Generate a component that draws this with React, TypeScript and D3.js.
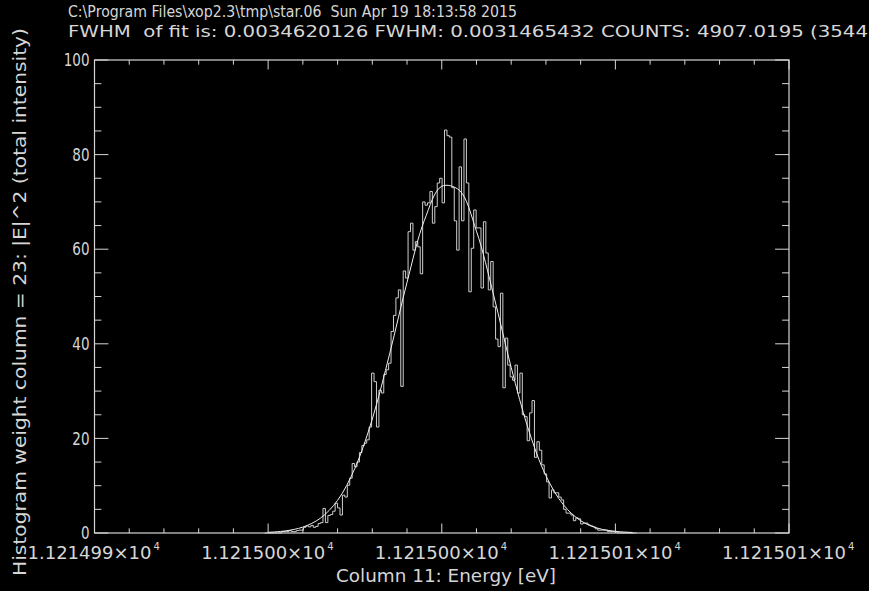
import React, { useEffect, useRef } from "react";
import * as d3 from "d3";

// energy axis (eV) and its printed labels
const energyTicks = [11214.99, 11214.995, 11215.0, 11215.005, 11215.01];
const energyTickLabels = ["1.121499", "1.121500", "1.121500", "1.121501", "1.121501"];
const intensityTicks = [0, 20, 40, 60, 80, 100];

// histogram: first bin edge and bin width in eV
const histStart = 11214.9949;
const binWidth = 0.00007;
const histCounts = [
  0, 0, 0, 0, 0, 0, 0, 0.3,
  0.3, 0.3, 0.5, 0.3, 0.3, 0.5,
  0.6, 0.6, 1.2, 1.5, 1.3, 1.6,
  1.2, 1.4, 2.0, 2.2, 5.2, 2.2, 3.7, 3.9, 4.6, 6.3,
  5.3, 3.8, 8.0, 7.6, 10.1, 11.6, 14.7, 14.0, 15.0, 17.0,
  18.5, 19.0, 19.7, 22.4, 33.8, 32.0, 22.4, 30.2, 29.6, 33.5,
  34.5, 35.9, 42.6, 46.0, 49.7, 51.4, 31.0, 55.4, 53.9, 63.7,
  65.5, 59.8, 61.6, 60.5, 54.8, 70.0, 69.3, 69.8, 72.2, 65.5,
  69.0, 74.0, 75.0, 69.8, 85.2, 84.0, 83.7, 73.0, 66.0, 59.8,
  77.4, 66.0, 83.3, 74.0, 51.0, 60.2, 68.3, 64.5, 64.5, 51.8,
  65.8, 59.2, 51.4, 57.4, 47.8, 41.0, 39.4, 50.7, 30.7, 41.2,
  35.5, 33.0, 32.3, 35.5, 29.6, 33.8, 25.0, 24.6, 19.5, 25.4,
  28.0, 16.0, 19.3, 17.5, 14.4, 12.5, 10.8, 7.4, 9.1, 8.5,
  8.5, 7.6, 7.0, 5.0, 4.2, 4.2, 3.8, 2.6, 3.2, 3.0,
  1.9, 2.1, 2.1, 1.7, 1.5, 1.3, 0.9, 0.6, 0.6, 0.6,
  0.6, 0.3, 0.3, 0.3, 0.3, 0, 0, 0, 0, 0,
  0, 0, 0,
];

// gaussian fit
const fitEnergy = [
  11214.995, 11214.9955, 11214.996, 11214.9965, 11214.997, 11214.9975,
  11214.998, 11214.9985, 11214.999, 11214.9995, 11215.0, 11215.0005,
  11215.001, 11215.0015, 11215.002, 11215.0025, 11215.003, 11215.0035,
  11215.004, 11215.0045, 11215.005, 11215.0055,
];
const fitIntensity = [
  0.14, 0.45, 1.25, 3.1, 6.9, 13.7, 24.1, 37.9, 53.0, 66.1, 73.3, 72.5,
  63.8, 50.1, 35.0, 21.8, 12.1, 6.0, 2.6, 1.0, 0.36, 0.11,
];

const title1 = "C:\\Program Files\\xop2.3\\tmp\\star.06  Sun Apr 19 18:13:58 2015";
const title2 = "FWHM  of fit is: 0.0034620126 FWHM: 0.0031465432 COUNTS: 4907.0195 (3544";
const xTitle = "Column 11: Energy [eV]";
const yTitle = "Histogram weight column = 23: |E|^2 (total intensity)";

const W = 869;
const H = 591;
const left = 94.5, right = 789, top = 60, bottom = 533;
const fg = "#d6d6d6";
const font = "'DejaVu Sans', sans-serif";

export default function App() {
  const ref = useRef<SVGSVGElement>(null);

  useEffect(() => {
    document.body.style.margin = "0";
    document.body.style.background = "#000";
    const svg = d3.select(ref.current);
    svg.selectAll("*").remove();

    const x = d3.scaleLinear().domain([11214.99, 11215.01]).range([left, right]);
    const y = d3.scaleLinear().domain([0, 100]).range([bottom, top]);

    svg.append("rect").attr("width", W).attr("height", H).attr("fill", "#000");

    // frame
    svg.append("rect")
      .attr("x", left).attr("y", top)
      .attr("width", right - left).attr("height", bottom - top)
      .attr("fill", "none").attr("stroke", fg).attr("stroke-width", 1.2);

    const ticks = svg.append("g").attr("stroke", fg).attr("stroke-width", 1);

    // x ticks, bottom and top, pointing inward
    const xMinor = d3.range(0, 21).map((i) => 11214.99 + i * 0.001);
    xMinor.forEach((v, i) => {
      const len = i % 5 === 0 ? 9.5 : 4.7;
      ticks.append("line").attr("x1", x(v)).attr("x2", x(v)).attr("y1", bottom).attr("y2", bottom - len);
      ticks.append("line").attr("x1", x(v)).attr("x2", x(v)).attr("y1", top).attr("y2", top + len);
    });

    // y ticks, left and right
    d3.range(0, 101, 5).forEach((v) => {
      const len = v % 20 === 0 ? 13.9 : 6.9;
      ticks.append("line").attr("x1", left).attr("x2", left + len).attr("y1", y(v)).attr("y2", y(v));
      ticks.append("line").attr("x1", right).attr("x2", right - len).attr("y1", y(v)).attr("y2", y(v));
    });

    // y labels
    svg.append("g").selectAll("text").data(intensityTicks).join("text")
      .attr("x", left - 5).attr("y", (d) => y(d))
      .attr("dy", "0.36em")
      .attr("text-anchor", "end")
      .attr("fill", fg).attr("font-family", font).attr("font-size", 17)
      .attr("textLength", (d) => String(d).length * 8.6)
      .attr("lengthAdjust", "spacingAndGlyphs")
      .text((d) => String(d));

    // x labels with superscript exponent
    energyTicks.forEach((v, i) => {
      const g = svg.append("g").attr("transform", `translate(${x(v)},559)`);
      g.append("text")
        .attr("x", -67).attr("y", 0)
        .attr("fill", fg).attr("font-family", font).attr("font-size", 17)
        .attr("textLength", 124).attr("lengthAdjust", "spacingAndGlyphs")
        .text(energyTickLabels[i] + "\u00d710");
      g.append("text")
        .attr("x", 59).attr("y", -9)
        .attr("fill", fg).attr("font-family", font).attr("font-size", 10)
        .text("4");
    });

    // histogram steps
    const edges = histCounts.map((c, i) => ({ e: histStart + i * binWidth, c }));
    edges.push({ e: histStart + histCounts.length * binWidth, c: 0 });
    svg.append("path")
      .datum(edges)
      .attr("fill", "none").attr("stroke", "#cfcfcf").attr("stroke-width", 1)
      .attr("d", d3.line<{ e: number; c: number }>()
        .x((d) => x(d.e)).y((d) => y(d.c))
        .curve(d3.curveStepAfter));

    // fit curve
    svg.append("path")
      .datum(fitEnergy.map((e, i) => [e, fitIntensity[i]] as [number, number]))
      .attr("fill", "none").attr("stroke", "#f0f0f0").attr("stroke-width", 1)
      .attr("d", d3.line<[number, number]>()
        .x((d) => x(d[0])).y((d) => y(d[1]))
        .curve(d3.curveCatmullRom));

    // titles
    svg.append("text").attr("x", 68).attr("y", 17)
      .attr("fill", fg).attr("font-family", font).attr("font-size", 15)
      .attr("textLength", 449).attr("lengthAdjust", "spacingAndGlyphs")
      .attr("xml:space", "preserve")
      .text(title1);
    svg.append("text").attr("x", 68).attr("y", 36.5)
      .attr("fill", fg).attr("font-family", font).attr("font-size", 16)
      .attr("textLength", 800).attr("lengthAdjust", "spacingAndGlyphs")
      .attr("xml:space", "preserve")
      .text(title2);

    svg.append("text").attr("x", 336).attr("y", 582)
      .attr("fill", fg).attr("font-family", font).attr("font-size", 17)
      .attr("textLength", 220).attr("lengthAdjust", "spacingAndGlyphs")
      .text(xTitle);

    svg.append("text")
      .attr("transform", `translate(26,302) rotate(-90)`)
      .attr("text-anchor", "middle")
      .attr("fill", fg).attr("font-family", font).attr("font-size", 17)
      .attr("textLength", 548).attr("lengthAdjust", "spacingAndGlyphs")
      .text(yTitle);
  }, []);

  return <svg ref={ref} width={W} height={H} style={{ display: "block" }} />;
}
